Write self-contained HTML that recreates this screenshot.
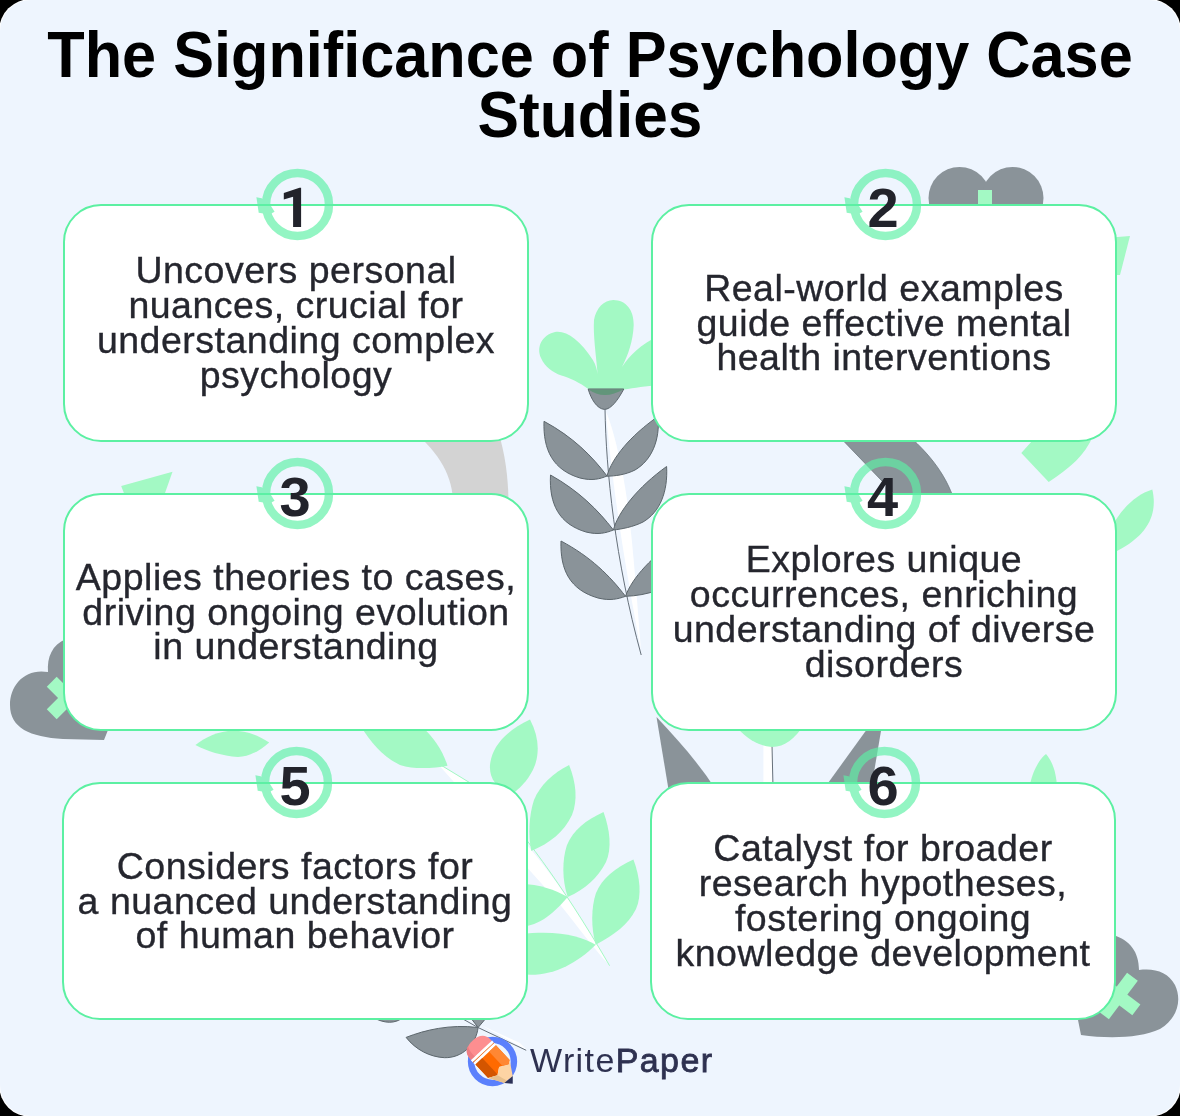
<!DOCTYPE html>
<html><head><meta charset="utf-8">
<style>
html,body{margin:0;padding:0;background:#000;width:1180px;height:1116px;overflow:hidden}
#pg{will-change:transform;box-shadow:0 0 0 1px #fff;position:absolute;left:0;top:0;width:1180px;height:1116px;background:#eef5fe;border-radius:31px;overflow:hidden;font-family:"Liberation Sans",sans-serif}
.deco{position:absolute;left:0;top:0;width:1180px;height:1116px}
h1{position:absolute;margin:0;left:0;width:1180px;text-align:center;font-weight:bold;color:#000;font-size:64px;line-height:60px;top:25px;white-space:nowrap}
h1 span{display:block}
#t1{transform:scaleX(0.9567)}
#t2{transform:scaleX(0.973)}
.card{position:absolute;box-sizing:border-box;width:466px;height:238px;border:2px solid #5cf0a2;border-radius:38px;background:#fff;display:flex;align-items:center;justify-content:center;text-align:center;color:#25262e;font-size:37.5px;line-height:34.8px;letter-spacing:0.5px;-webkit-text-stroke:0.35px #25262e}
.card div{white-space:nowrap}
.num{position:absolute;width:90px;height:90px}
.logo{position:absolute;left:530px;top:1041px;font-size:34px;color:#2e3150;white-space:nowrap;letter-spacing:1.4px}
.logo b{font-weight:normal;-webkit-text-stroke:0.8px #2e3150}
</style></head><body>
<div id="pg">
<svg class="deco" id="deco" viewBox="0 0 1180 1116">
<g id="bg-grey" fill="#8a9399">
<!-- top-right heart -->
<circle cx="959.5" cy="198" r="31"/>
<circle cx="1012.5" cy="198" r="31"/>
<rect x="940" y="195" width="90" height="30"/>
<!-- dark band between 2 and 4 -->
<path d="M833,430 L906,506 L956,506 C948,478 932,455 902,430 Z" stroke="#6d777d" stroke-width="0.8"/>
<!-- left heart -->
<path d="M48,672 C25,668 10,685 10,705 C10,728 30,737 63,739 L104,740 L120,700 L120,640 L66,639 C52,645 47,657 48,672 Z"/>
<!-- bottom right heart -->
<path d="M1139,970 C1139,952 1130,940 1113,935 L1090,935 L1078,1020 L1081,1035 C1110,1039 1140,1038 1160,1029 C1178,1018 1182,1000 1175,985 C1168,972 1155,968 1139,970 Z"/>
<!-- triangles between 4 and 6 -->
<path d="M656.5,717 L668.6,790 L716,790 C700,765 680,742 656.5,717 Z"/>
<path d="M870,725 L882,725 L871,790 L823,790 Z"/>
</g>
<path d="M413,430 C440,455 453,475 453.4,506 L508.5,506 C508.5,475 505,455 498,430 Z" fill="#d3d3d3"/>
<g id="flower">
<!-- petals -->
<path fill="#a3f9c4" d="M588.2,389 C580,383 570,378 561.4,375.6 C552,372 545,367 541,358 C536,347 542,335 555,332 C566,330 580,340 592.9,359.9 C596,365 597,370 597.6,373.9 C596,355 593,335 594,320 C596,308 604,300 613.3,299.9 C626,300 634,310 633.7,325 C633,342 628,355 622,366.9 C630,355 640,345 660,335 L660,385 C645,386 635,388 623.8,389.6 Z"/>
<!-- calyx -->
<path fill="#8a9399" stroke="#5c666c" stroke-width="1" d="M588.2,389 L623.8,389 C618,400 611,409.4 604.5,409.4 C597,409 591,399 588.2,389 Z"/>
<path fill="#62957a" d="M588.6,389.5 L623.4,389.5 C617,393 611,395 605,395 C599,395 593,393 588.6,389.5 Z"/>
<!-- white streak + stem -->
<path fill="#ffffff" d="M606,412 C611,470 620,540 641,650 C636,590 632,520 622,470 C616,440 610,420 606,412 Z"/>
<path fill="none" stroke="#66707a" stroke-width="1" d="M605,409 C606,470 615,560 641.2,655"/>
<!-- grey leaves -->
<g fill="#8a9399" stroke="#5c666c" stroke-width="1">
<path d="M607,476 C592,456 573,437 544,421.3 C543,450 553,470 580,478 C592,481 600,479 607,476 Z"/>
<path d="M613.4,530 C598,510 579,491 550.5,475 C549,504 559,524 586,532 C598,535 606,533 613.4,530 Z"/>
<path d="M625.5,596.3 C610,576 591,557 561,541 C560,570 570,590 598,598 C610,601 618,599 625.5,596.3 Z"/>
<path d="M606.9,476.2 C612,458 630,436 658.1,416.4 C660,440 652,460 635,470 C625,475 615,476 606.9,476.2 Z"/>
<path d="M613.4,530 C618,512 638,487 666.6,466.5 C668,492 660,512 643,522 C633,527 622,529 613.4,530 Z"/>
<path d="M625.5,596.3 C632,578 652,556 682,536 C684,560 676,580 658,590 C648,594 636,596 625.5,596.3 Z"/>
</g>
</g>
<g id="branch">
<!-- white stem streak -->
<path fill="#ffffff" d="M437,763 L470,783 L528,846 C548,870 575,905 610,966 C590,945 570,915 550,893 C535,876 520,860 505,843 L470,800 Z"/>
<path fill="none" stroke="#a3f9c4" stroke-width="1" d="M441.9,765.7 L490,795 C520,830 560,880 609.6,965.7"/>
<g fill="#a3f9c4">
<!-- A -->
<path d="M514.6,792.3 C498,790 489,780 490,765 C492,745 508,730 530,719.6 C538,735 540,750 535,765 C530,778 522,786 514.6,792.3 Z"/>
<!-- B -->
<path d="M531.3,851 C528,835 529,815 534,800 C540,785 553,773 569.1,764.9 C576,782 578,800 572,815 C564,832 550,843 531.3,851 Z"/>
<!-- C -->
<path d="M567.7,897.1 C562,880 562,860 567,845 C573,830 586,820 603.5,811.9 C610,830 612,848 606,862 C598,878 585,889 567.7,897.1 Z"/>
<!-- D -->
<path d="M595.7,944.7 C591,928 591,908 596,893 C602,878 615,868 633.4,859.4 C640,877 642,895 636,909 C628,925 614,935 595.7,944.7 Z"/>
<!-- E -->
<path d="M567.7,897.1 C555,890 540,884 520,884 L520,927 C540,926 555,912 567.7,897.1 Z"/>
<!-- F -->
<path d="M595.7,944.7 C580,936 560,930 520,934 L520,974 C550,978 575,965 595.7,944.7 Z"/>
<!-- G -->
<path d="M447.5,765.7 C435,768 415,770 400,765 C385,758 372,745 360,725 L420,725 C435,738 443,752 447.5,765.7 Z"/>
</g>
<!-- grey leaves near logo -->
<path fill="#ffffff" d="M462,1018 L475,1022 L527,1050 L520,1043 L470,1020 Z"/>
<g fill="#8a9399" stroke="#5c666c" stroke-width="1">
<path d="M406.1,1037.4 C425,1030 450,1024 478.1,1027.5 C476,1045 462,1058 444.6,1057.7 C430,1057 416,1050 406.1,1037.4 Z"/>
<path d="M470,1017 L487,1017 L478.1,1027.5 Z"/>
<path d="M372,1017 C385,1024 395,1024 404,1017 Z"/>
</g>
<path fill="none" stroke="#66707a" stroke-width="1" d="M462.9,1019 L478,1027.5 L526.2,1050.3"/>
</g>
<g id="bg-green" fill="#a3f9c4">
<rect x="978" y="190" width="14" height="20"/>
<polygon points="1105,238 1130,236 1120,275 1105,275"/>
<path d="M1036.5,436 L1021.3,453 L1048.7,482 C1070,468 1085,455 1093,436 Z"/>
<path d="M1110,530 C1120,510 1135,495 1152.3,489.6 C1157,510 1152,533 1117,551 L1110,551 Z"/>
<polygon points="121.2,486.1 172.5,471.7 163.6,497 125.4,497"/>
<path d="M195.4,745 C212,732 238,722 269.2,742.4 C258,752 248,757 238,757 C222,756 207,751 195.4,745 Z"/>
<rect x="763.4" y="740" width="8.8" height="47" fill="#fff"/>
<path d="M772,745 L773,787" stroke="#66707a" stroke-width="1" fill="none"/>
<path d="M735,725 L804,725 C795,738 785,747 772,747 C758,746 745,738 735,725 Z"/>
<path d="M1029,790 C1031,775 1038,760 1046,754 C1053,762 1057,775 1057,790 Z"/>
<!-- crosses -->
<g transform="translate(68,698) rotate(45)"><rect x="-7" y="-23" width="14" height="46"/><rect x="-23" y="-7" width="46" height="14"/></g>
<g transform="translate(1118,996) rotate(37)"><rect x="-6.7" y="-24" width="13.4" height="48"/><rect x="-23" y="-6.7" width="46" height="13.4"/></g>
</g>
</svg>

<h1><span id="t1">The Significance of Psychology Case</span><span id="t2">Studies</span></h1>

<div class="card" style="left:63px;top:204px"><div>Uncovers personal<br>nuances, crucial for<br>understanding complex<br>psychology</div></div>
<div class="card" style="left:651px;top:204px"><div>Real-world examples<br>guide effective mental<br>health interventions</div></div>
<div class="card" style="left:63px;top:493px"><div>Applies theories to cases,<br>driving ongoing evolution<br>in understanding</div></div>
<div class="card" style="left:651px;top:493px"><div>Explores unique<br>occurrences, enriching<br>understanding of diverse<br>disorders</div></div>
<div class="card" style="left:62px;top:782px"><div>Considers factors for<br>a nuanced understanding<br>of human behavior</div></div>
<div class="card" style="left:650px;top:782px"><div>Catalyst for broader<br>research hypotheses,<br>fostering ongoing<br>knowledge development</div></div>

<svg class="deco" id="nums" viewBox="0 0 1180 1116">
<defs>
<g id="ring">
<circle cx="0" cy="0" r="31.5" fill="none" stroke="#5ef0a6" stroke-width="8.5"/>
<path d="M-41.1,-7.2 L-35.8,-6.2 L-27.6,-0.2 L-22.9,7.3 L-28,10.1 L-38.8,8.2 Z" fill="#5ef0a6"/>
</g>
</defs>
<g opacity="0.67">
<use href="#ring" x="297.5" y="204.5"/>
<use href="#ring" x="885.5" y="204.5"/>
<use href="#ring" x="297.5" y="493.5"/>
<use href="#ring" x="885.5" y="493.5"/>
<use href="#ring" x="296.5" y="782.5"/>
<use href="#ring" x="884.5" y="782.5"/>
</g>
<path fill="#22232b" d="M283.8,193.1 L299.5,187.8 L301.1,187.8 L301.1,226.9 L293.1,226.9 L293.1,196.8 L283.8,199.6 Z"/>
<g font-family="Liberation Sans" font-weight="bold" font-size="56" fill="#22232b" text-anchor="middle">

<text x="883" y="227">2</text>
<text x="295" y="516">3</text>
<text x="882.5" y="516">4</text>
<text x="295" y="805">5</text>
<text x="883" y="805">6</text>
</g>
</svg>

<svg class="deco" id="logosvg" viewBox="0 0 1180 1116">
<circle cx="492.5" cy="1061.5" r="21.4" fill="none" stroke="#5b80fc" stroke-width="6.5"/>
<g transform="translate(492.6,1062.3) rotate(-43)">
<path d="M-14,-16 L-14,-18 C-14,-26 -8,-29.5 0,-29.5 C8,-29.5 14,-26 14,-18 L14,-16 Z" fill="#fd8e90"/>
<path d="M-14,-16 L-14,-18 C-14,-24 -11,-27.5 -7,-28.5 C-9,-25 -9.5,-20 -9,-16 Z" fill="#ee7d82"/>
<rect x="-14.5" y="-16.3" width="29" height="2.6" fill="#fff"/>
<rect x="-14.5" y="-13.7" width="29" height="1" fill="#f07020"/>
<rect x="-14.5" y="-12.7" width="29" height="2.6" fill="#fff"/>
<path d="M-14,-10.1 L14,-10.1 L14,10 L10.4,12.6 L1.5,7.9 L-5.2,12.8 L-14,8.5 Z" fill="#ff6a00"/>
<path d="M-14,-10.1 L-4.7,-10.1 L-4.7,11 L-5.2,12.8 L-14,8.5 Z" fill="#d35500"/>
<path d="M4.7,-10.1 L14,-10.1 L14,10 L10.4,12.6 L4.7,9.5 Z" fill="#ff8733"/>
<path d="M-14,8.5 L-5.2,12.8 L1.5,7.9 L10.4,12.6 L14,10 L5.3,23.8 L-5.4,23.3 Z" fill="#fdd4a4"/>
<path d="M-14,8.5 L-5.2,12.8 L-2,23.5 L-5.4,23.3 Z" fill="#e7c08e"/>
<path d="M-5.6,23.2 L5.4,23.8 L0,29.5 Z" fill="#2c3157"/>
</g>
</svg>
<div class="logo"><span>Write</span><b>Paper</b></div>
</div>
</body></html>
